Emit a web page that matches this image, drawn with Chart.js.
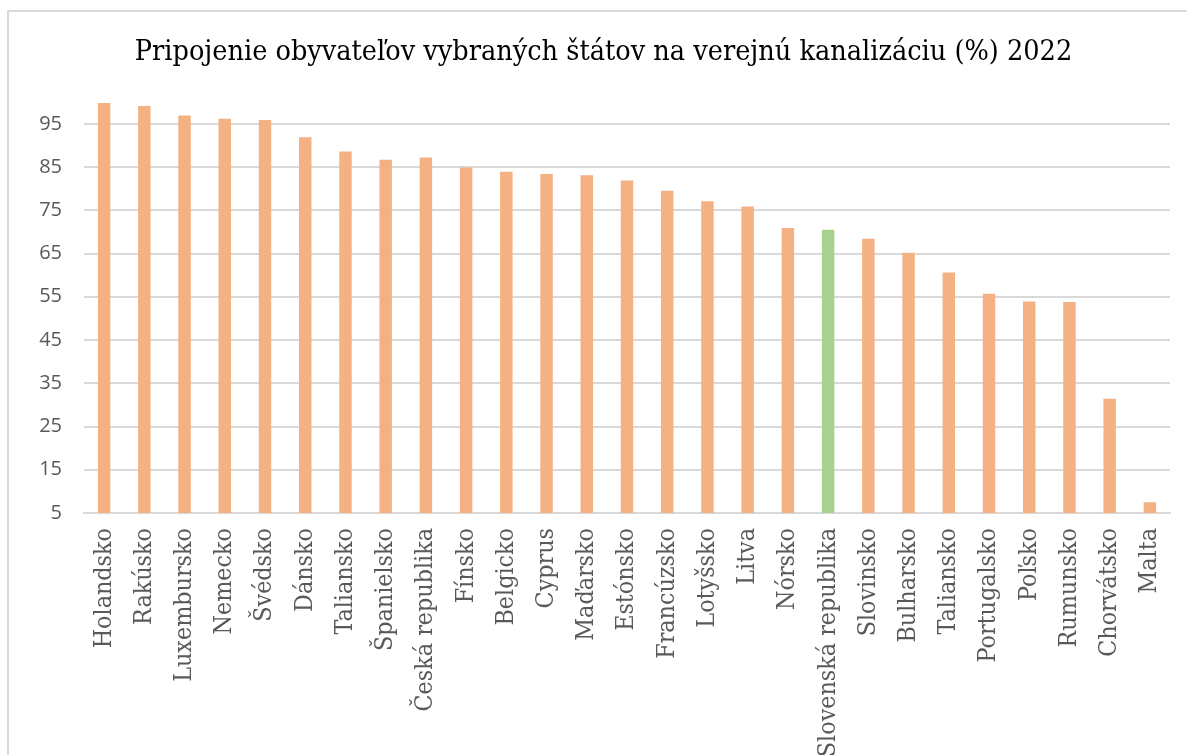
<!DOCTYPE html>
<html>
<head>
<meta charset="utf-8">
<script src="https://cdn.jsdelivr.net/npm/chart.js@4"></script>
<style>
  html, body { margin: 0; padding: 0; background: #ffffff; overflow: hidden; }
  #frame { position: absolute; left: 7px; top: 10px; width: 1200px; height: 760px; border: 2px solid #d9d9d9; box-sizing: border-box; }
  #wrap { position: absolute; left: 0; top: 0; width: 1187px; height: 755px; }
</style>
</head>
<body>
<div id="frame"></div>
<div id="wrap"><canvas id="c" width="1187" height="755"></canvas></div>
<script>
const titleText = "Pripojenie obyvateľov vybraných štátov na verejnú kanalizáciu (%) 2022";
const categories = ["Holandsko","Rakúsko","Luxembursko","Nemecko","Švédsko","Dánsko","Taliansko","Španielsko","Česká republika","Fínsko","Belgicko","Cyprus","Maďarsko","Estónsko","Francúzsko","Lotyšsko","Litva","Nórsko","Slovenská republika","Slovinsko","Bulharsko","Taliansko","Portugalsko","Poľsko","Rumunsko","Chorvátsko","Malta"];
const values = [99.8,99.1,96.9,96.2,95.9,91.9,88.6,86.7,87.2,84.9,83.9,83.4,83.1,81.9,79.5,77.1,75.9,70.9,70.5,68.4,65.2,60.6,55.7,53.9,53.8,31.4,7.5];
const highlighted = "Slovenská republika";
const yTicks = [5,15,25,35,45,55,65,75,85,95];
const yMin = 5, yMax = 100;

const barColors = categories.map(c => c === highlighted ? "#A9D18E" : "#F4B183");

new Chart(document.getElementById("c"), {
  type: "bar",
  data: {
    labels: categories,
    datasets: [{
      data: values,
      backgroundColor: barColors,
      borderWidth: 0,
      categoryPercentage: 1,
      barPercentage: 0.31
    }]
  },
  options: {
    responsive: false,
    animation: false,
    layout: { padding: { left: 37, right: 17, top: 0, bottom: 0 } },
    plugins: {
      legend: { display: false },
      tooltip: { enabled: false },
      title: {
        display: true,
        text: titleText,
        color: "#000000",
        font: { family: "'DejaVu Serif Condensed', 'DejaVu Serif', serif", size: 28.5, weight: "normal", lineHeight: 1.2 },
        padding: { top: 35, bottom: 33 }
      }
    },
    scales: {
      x: {
        grid: { display: false },
        border: { display: true, color: "#d9d9d9", width: 2 },
        ticks: {
          color: "#595959",
          minRotation: 90, maxRotation: 90,
          autoSkip: false,
          padding: 7,
          font: { family: "'DejaVu Serif Condensed', 'DejaVu Serif', serif", size: 24.8 }
        },
        afterFit: (s) => { s.height = 755 - 513; }
      },
      y: {
        min: yMin, max: yMax,
        afterBuildTicks: (s) => { s.ticks = yTicks.map(v => ({ value: v })); },
        grid: { color: "#d9d9d9", lineWidth: 2, drawTicks: false },
        border: { display: false },
        ticks: {
          color: "#595959",
          padding: 22,
          font: { family: "'Open Sans', sans-serif", size: 20 }
        },
        afterFit: (s) => { s.width = 47; }
      }
    }
  }
});
</script>
</body>
</html>
